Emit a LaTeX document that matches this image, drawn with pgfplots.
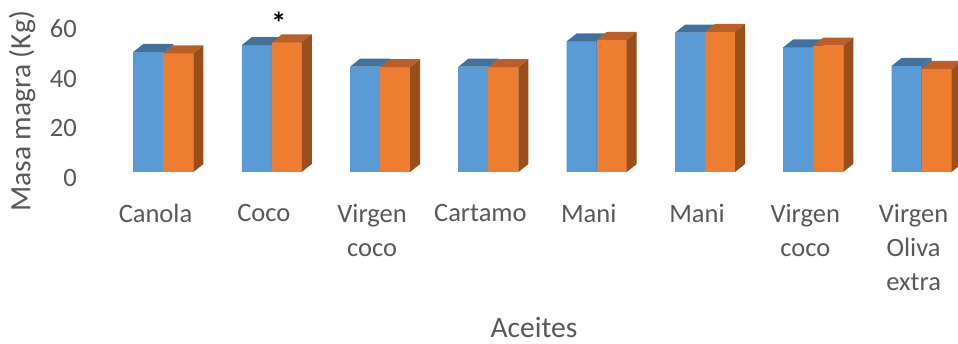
\documentclass[border=0pt]{standalone}
\usepackage{pgfplots}
\pgfplotsset{compat=1.18}
\usepackage{fontspec}
\setmainfont{Carlito}
\definecolor{bfront}{HTML}{5B9BD5}
\definecolor{btop}{HTML}{41719C}
\definecolor{ofront}{HTML}{ED7D31}
\definecolor{otop}{HTML}{B9602A}
\definecolor{oside}{HTML}{9A4E1C}
\definecolor{txt}{HTML}{595959}
\pgfdeclareplotmark{none3d}{}
\pgfplotsset{
  faces3d/.style n args={4}{%
    scatter, only marks, mark=none3d,
    visualization depends on={rawy \as \ry},
    scatter/@pre marker code/.code={%
      \pgfmathsetmacro\hh{\ry*2.483}%
      \pgfsetfillcolor{#4}%
      \pgfpathrectanglecorners{\pgfpoint{#1pt}{-\hh pt}}{\pgfpoint{#1pt+30pt}{0pt}}%
      \pgfusepath{fill}%
      \pgfsetfillcolor{#2}%
      \pgfpathmoveto{\pgfpoint{#1pt}{0pt}}%
      \pgfpathlineto{\pgfpoint{#1pt+30pt}{0pt}}%
      \pgfpathlineto{\pgfpoint{#1pt+40pt}{8pt}}%
      \pgfpathlineto{\pgfpoint{#1pt+10pt}{8pt}}%
      \pgfpathclose
      \pgfusepath{fill}%
      \pgfsetfillcolor{#3}%
      \pgfpathmoveto{\pgfpoint{#1pt+30pt}{0pt}}%
      \pgfpathlineto{\pgfpoint{#1pt+40pt}{8pt}}%
      \pgfpathlineto{\pgfpoint{#1pt+40pt}{8pt-\hh pt}}%
      \pgfpathlineto{\pgfpoint{#1pt+30pt}{-\hh pt}}%
      \pgfpathclose
      \pgfusepath{fill}%
    },
    scatter/@post marker code/.code={},
  },
}
\pgfplotstableread{
x y
0 48.4
1 51.1
2 42.4
3 42.4
4 52.6
5 56.1
6 50.2
7 42.7
}\bluedata
\pgfplotstableread{
x y
0 47.8
1 52.2
2 42.2
3 42.2
4 53.2
5 56.4
6 50.9
7 41.5
}\orangedata
\begin{document}
\begin{tikzpicture}
\useasboundingbox (-109.35pt,-172pt) rectangle (848.65pt,172pt);
\begin{axis}[
  x=108.3pt, y=2.483pt,
  xmin=-0.5, xmax=7.5, ymin=0, ymax=60,
  clip=false,
  axis line style={draw=none},
  tick style={draw=none},
  ytick={0,20,40,60},
  xtick={0,...,7},
  xticklabels={Canola,Coco,{Virgen\\coco},Cartamo,Mani,Mani,{Virgen\\coco},{Virgen\\Oliva\\extra}},
  /pgf/number format/assume math mode=true,
  yticklabel style={anchor=east, inner sep=0pt, xshift=-32.3pt, yshift=-6pt, text=txt, font=\fontsize{26.5}{32}\selectfont},
  xticklabel style={anchor=north, align=center, inner sep=0pt, yshift=-32pt, xshift=-8pt, text=txt, font=\fontsize{26.5}{34}\selectfont},
  xlabel={Aceites},
  ylabel={Masa magra (Kg)},
  xlabel style={at={(axis cs:3.421,-62.8)}, anchor=center, text=txt, font=\fontsize{29.5}{34}\selectfont},
  ylabel style={at={(axis cs:-1.3065,24.4)}, anchor=center, rotate=0, text=txt, font=\fontsize{29.5}{34}\selectfont},
]
\addplot[ybar, bar width=30pt, bar shift=-15pt, fill=bfront, draw=none] table[x=x,y=y] {\bluedata};
\addplot[ybar, bar width=30pt, bar shift=15pt, fill=ofront, draw=none] table[x=x,y=y] {\orangedata};
\addplot[faces3d={-30}{btop}{btop}{bfront}] table[x=x,y=y] {\bluedata};
\addplot[faces3d={0}{otop}{oside}{ofront}] table[x=x,y=y] {\orangedata};
\node[anchor=base, font=\bfseries\fontsize{30}{34}\selectfont, text=black] at (axis cs:1.066,55.6) {*};
\end{axis}
\end{tikzpicture}
\end{document}
